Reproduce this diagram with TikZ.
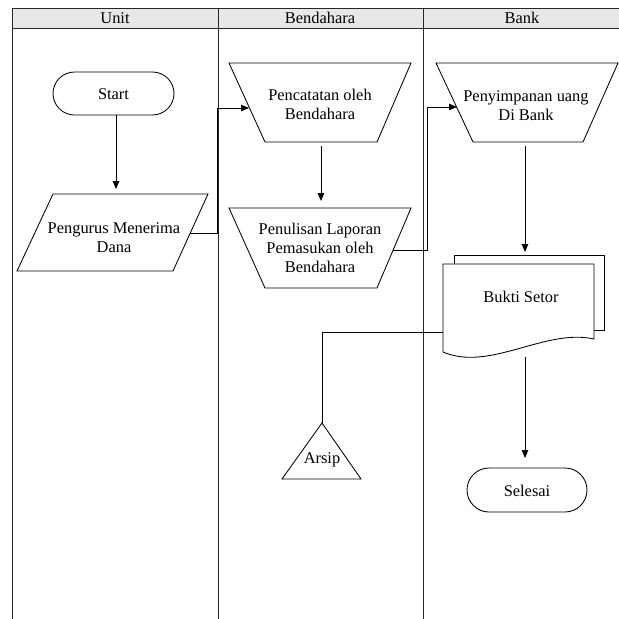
\documentclass[tikz,border=0pt]{standalone}
\usepackage{fontspec}
\setmainfont{Liberation Serif}
\usetikzlibrary{arrows.meta}
\begin{document}
\begin{tikzpicture}[x=1pt,y=-1pt,
  lane/.style={draw=black!85, line width=0.9pt},
  shp/.style={draw=black, line width=0.85pt, fill=white},
  txt/.style={align=center, font=\fontsize{16.4}{19}\selectfont, inner sep=0pt},
  arr/.style={draw=black, line width=0.85pt, -{Triangle[length=8pt,width=6.5pt]}},
  con/.style={draw=black, line width=0.85pt}]
\useasboundingbox (0,0) rectangle (619,619);
\fill[white] (0,0) rectangle (619,619);
% swimlane table
\fill[black!9] (12,8) rectangle (630,28);
\draw[lane] (630,8) -- (12,8) -- (12,630);
\draw[lane] (12,28) -- (630,28);
\draw[lane] (218,8) -- (218,630);
\draw[lane] (423,8) -- (423,630);
\node[txt] (h1) at (115,18) {Unit};
\node[txt] (h2) at (320,18) {Bendahara};
\node[txt] (h3) at (522,18) {Bank};

% Start
\draw[shp, rounded corners=21.5pt] (53,72) rectangle (174,115);
\node[txt] (start) at (113.5,94) {Start};
\coordinate (startS) at (116,115);

% Pengurus Menerima Dana (parallelogram)
\draw[shp] (53,194) -- (208,194) -- (173,271) -- (17,271) -- cycle;
\node[txt] (peng) at (114,238) {Pengurus Menerima\\Dana};
\coordinate (pengN) at (116,189);
\coordinate (pengE) at (190,233);

% Pencatatan oleh Bendahara
\draw[shp] (229,63) -- (411,63) -- (377,142) -- (265,142) -- cycle;
\node[txt] (penc) at (320,104) {Pencatatan oleh\\Bendahara};
\coordinate (pencW) at (249,108);
\coordinate (pencS) at (321,146);

% Penulisan Laporan
\draw[shp] (229,208) -- (411,208) -- (377,288) -- (265,288) -- cycle;
\node[txt] (penu) at (320,248) {Penulisan Laporan\\Pemasukan oleh\\Bendahara};
\coordinate (penuN) at (321,201);
\coordinate (penuE) at (393,250);

% Penyimpanan uang Di Bank
\draw[shp] (436,63) -- (618,63) -- (583,142) -- (473,142) -- cycle;
\node[txt] (peny) at (526,106) {Penyimpanan uang\\Di Bank};
\coordinate (penyW) at (457,107);
\coordinate (penyS) at (525,146);

% Bukti Setor (multi-document)
\draw[shp] (454,264) -- (454,255) -- (604,255) -- (604,330) -- (594,330);
\draw[shp] (443,264) -- (594,264) -- (594,339) .. controls (545,328) and (490,372) .. (443,352) -- cycle;
\node[txt] (bukti) at (521,297) {Bukti Setor};
\coordinate (buktiN) at (525,252);
\coordinate (buktiS) at (525,357);
\coordinate (buktiW) at (443,332);

% Arsip (triangle)
\draw[shp] (322,423) -- (361,479) -- (282,479) -- cycle;
\node[txt] (arsip) at (322,460) {Arsip};
\coordinate (arsipN) at (322,423);

% Selesai
\draw[shp, rounded corners=22pt] (467,468) rectangle (587,512);
\node[txt] (selesai) at (527,491) {Selesai};
\coordinate (selesaiN) at (525,458);

% connectors
\draw[arr] (startS) -- (pengN);
\draw[arr] (pengE) -- (217,233) -- (217,108) -- (pencW);
\draw[arr] (pencS) -- (penuN);
\draw[arr] (penuE) -- (427,250) -- (427,107) -- (penyW);
\draw[arr] (penyS) -- (buktiN);
\draw[arr] (buktiS) -- (selesaiN);
\draw[con] (buktiW) -- (322,332) -- (arsipN);
\end{tikzpicture}
\end{document}
